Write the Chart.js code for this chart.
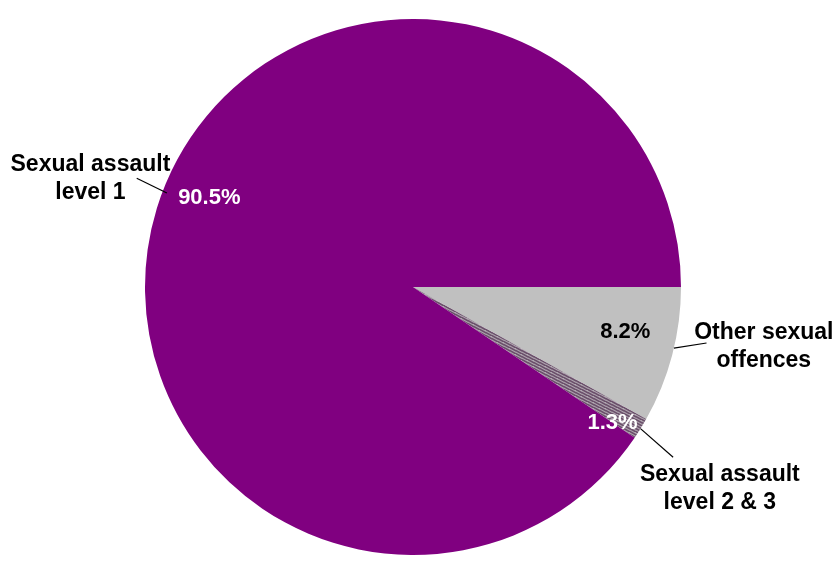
<!DOCTYPE html>
<html>
<head>
<meta charset="utf-8">
<script src="https://cdn.jsdelivr.net/npm/chart.js@4.4.1/dist/chart.umd.min.js"></script>
<style>
  html, body { margin: 0; padding: 0; background: #ffffff; }
  #wrap { width: 837px; height: 561px; }
</style>
</head>
<body>
<div id="wrap"><canvas id="c" width="837" height="561"></canvas></div>
<script>
// ---- data ----
const categories = ["Other sexual offences", "Sexual assault level 2 & 3", "Sexual assault level 1"];
const categoryLines = [["Other sexual", "offences"], ["Sexual assault", "level 2 & 3"], ["Sexual assault", "level 1"]];
const shares = [8.2, 1.3, 90.5];
const percentLabels = ["8.2%", "1.3%", "90.5%"];

// ---- styles ----
function hatch() {
  const p = document.createElement('canvas');
  p.width = 6; p.height = 6;
  const g = p.getContext('2d');
  g.fillStyle = '#aea4ae';
  g.fillRect(0, 0, 6, 6);
  g.strokeStyle = '#6a4e6a';
  g.lineWidth = 1.6;
  g.beginPath();
  g.moveTo(-1, 2); g.lineTo(7, 6.5);
  g.moveTo(-1, -1); g.lineTo(7, 3.5);
  g.moveTo(-1, 5); g.lineTo(7, 9.5);
  g.stroke();
  return g.createPattern(p, 'repeat');
}
const colors = ['#c0c0c0', hatch(), '#800080'];

// label placement (angle in degrees clockwise from 3 o'clock, distance as fraction of radius)
const pctPlace = [
  { a: 12.0, f: 0.81, color: '#000000' },
  { a: 34.2, f: 0.90, color: '#ffffff' },
  { a: 203.7, f: 0.83, color: '#ffffff' }
];
const catPlace = [
  { a: 9.7, f: 1.328, line: [[13.2, 1.0], [10.8, 1.115]] },
  { a: 33.3, f: 1.37, line: [[31.9, 1.0], [33.2, 1.16]] },
  { a: 198.6, f: 1.27, line: [[200.9, 0.983], [201.5, 1.108]] }
];

const labelPlugin = {
  id: 'pieLabels',
  afterDraw(chart) {
    const ctx = chart.ctx;
    const arc = chart.getDatasetMeta(0).data[0];
    const cx = arc.x, cy = arc.y, R = arc.outerRadius;
    const pt = (deg, f) => {
      const t = deg * Math.PI / 180;
      return [cx + Math.cos(t) * R * f, cy + Math.sin(t) * R * f];
    };
    ctx.save();
    ctx.textAlign = 'center';
    ctx.textBaseline = 'middle';
    ctx.font = 'bold 22px "Liberation Sans", Arial, sans-serif';
    percentLabels.forEach((txt, i) => {
      const [x, y] = pt(pctPlace[i].a, pctPlace[i].f);
      ctx.fillStyle = pctPlace[i].color;
      ctx.fillText(txt, x, y);
    });
    ctx.font = 'bold 23px "Liberation Sans", Arial, sans-serif';
    ctx.strokeStyle = '#000000';
    ctx.lineWidth = 1.2;
    categoryLines.forEach((lines, i) => {
      const p = catPlace[i];
      const [a, b] = p.line;
      const [x1, y1] = pt(a[0], a[1]);
      const [x2, y2] = pt(b[0], b[1]);
      ctx.beginPath(); ctx.moveTo(x1, y1); ctx.lineTo(x2, y2); ctx.stroke();
      const [x, y] = pt(p.a, p.f);
      ctx.fillStyle = '#000000';
      const lh = 28;
      lines.forEach((ln, k) => {
        ctx.fillText(ln, x, y + (k - (lines.length - 1) / 2) * lh);
      });
    });
    ctx.restore();
  }
};

new Chart(document.getElementById('c'), {
  type: 'pie',
  data: {
    labels: categories,
    datasets: [{
      data: shares,
      backgroundColor: colors,
      borderWidth: 0
    }]
  },
  options: {
    responsive: false,
    animation: false,
    rotation: 90,
    layout: { padding: { top: 19, bottom: 6, left: 0, right: 11 } },
    plugins: {
      legend: { display: false },
      tooltip: { enabled: false }
    }
  },
  plugins: [labelPlugin]
});
</script>
</body>
</html>
